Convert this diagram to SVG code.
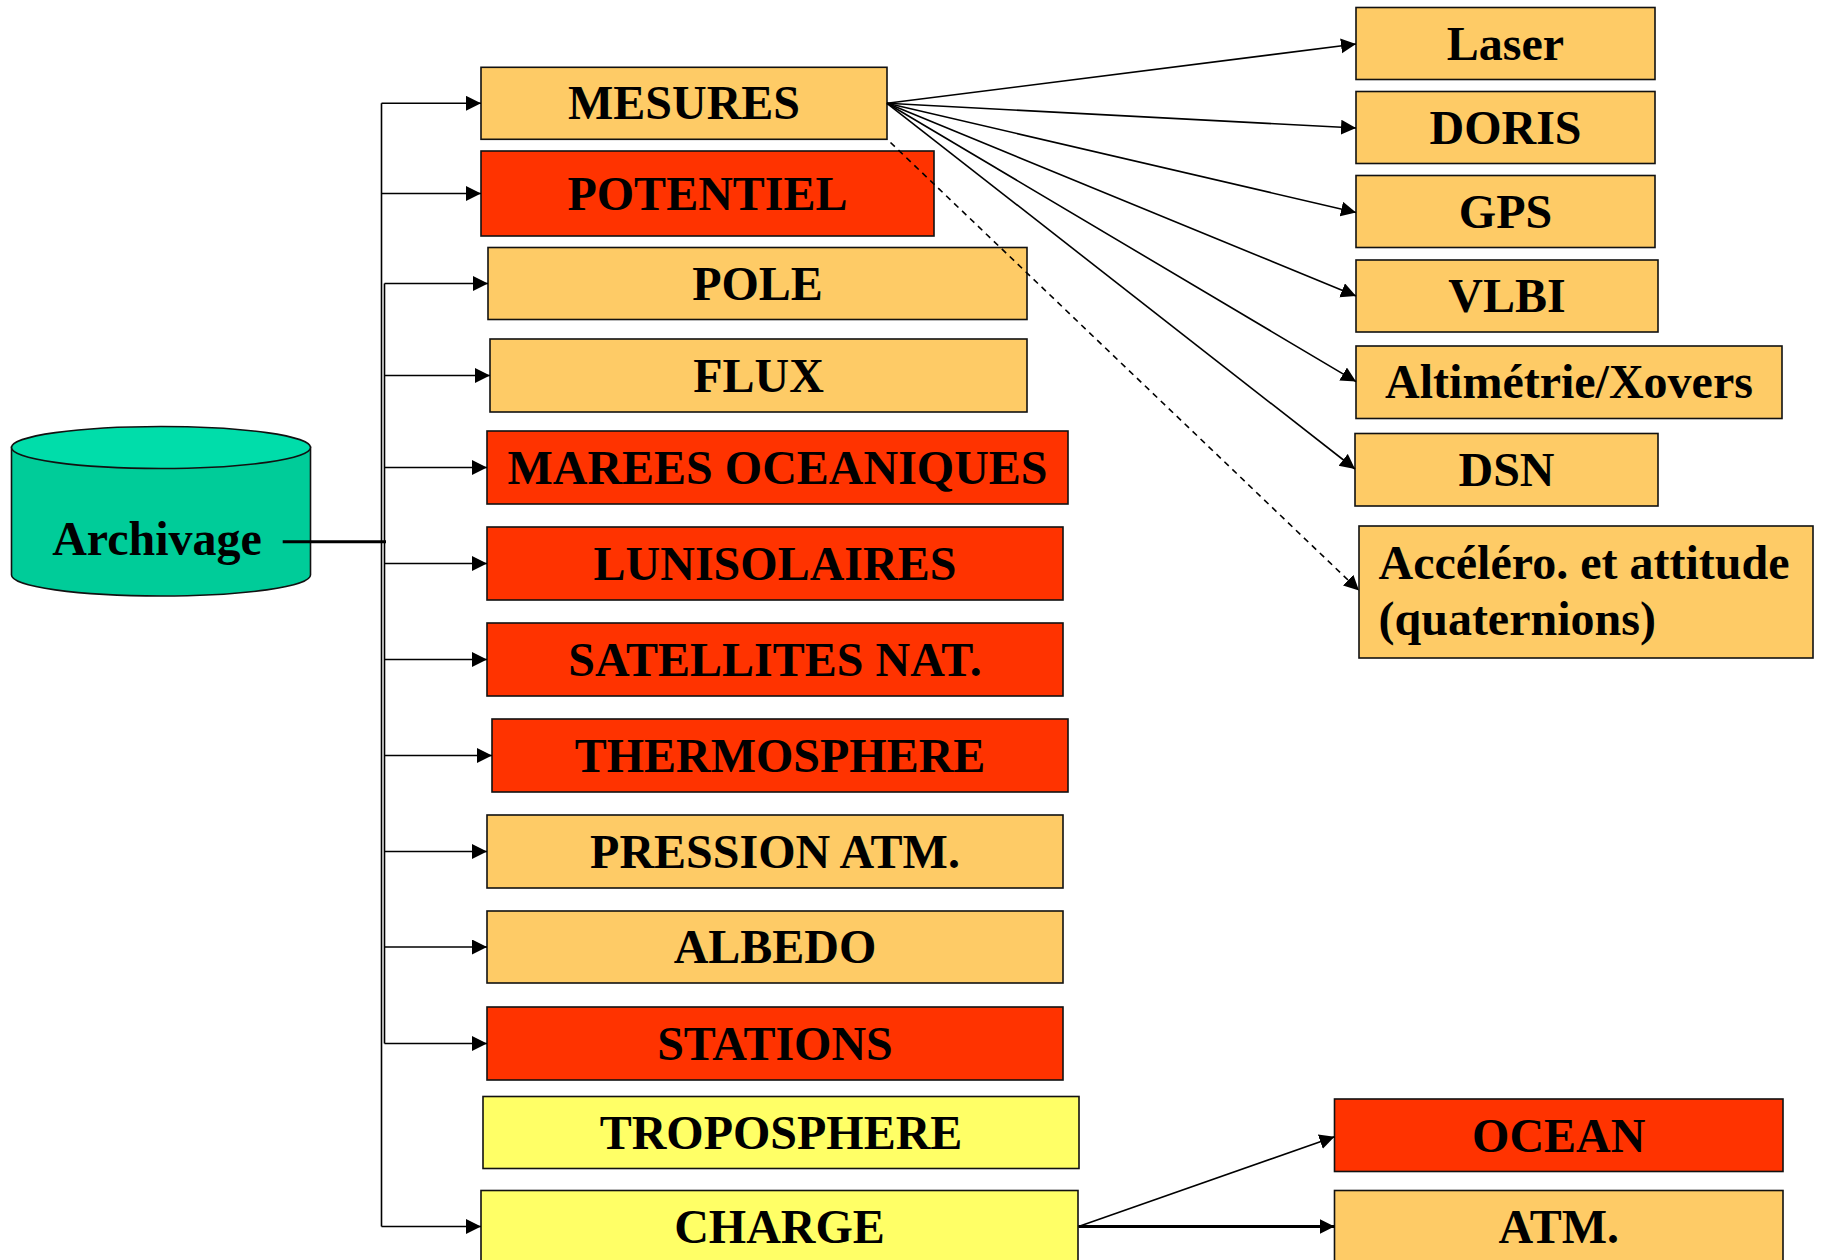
<svg xmlns="http://www.w3.org/2000/svg" width="1822" height="1260" viewBox="0 0 1822 1260">
  <style>
    .box { stroke: #111; stroke-width: 1.6; }
    .or { fill: #FECB66; }
    .rd { fill: #FF3300; }
    .ye { fill: #FFFF66; }
    .lbl { font-family: "Liberation Serif", "Times New Roman", serif; font-weight: bold; font-size: 48px; fill: #000; text-anchor: middle; }
    .lft { text-anchor: start; }
    .wire { fill: none; stroke: #000; stroke-width: 1.6; }
    .thick { stroke-width: 3; }
    .dash { stroke-dasharray: 6 5; }
  </style>
  <defs>
    <marker id="arr" markerUnits="userSpaceOnUse" markerWidth="16" markerHeight="16" refX="15" refY="7.5" orient="auto">
      <path d="M0,0 L15,7.5 L0,15 Z" fill="#000"/>
    </marker>
  </defs>
  <rect width="1822" height="1260" fill="#fff"/>

  <!-- archive cylinder -->
  <g id="archivage">
    <path d="M11.5,447 L11.5,575 A149.5,21 0 0 0 310.5,575 L310.5,447 Z" fill="#00CC99" stroke="#111" stroke-width="1.6"/>
    <ellipse cx="161" cy="447.5" rx="149.5" ry="21" fill="#00DDAA" stroke="#111" stroke-width="1.6"/>
    <text class="lbl" x="157" y="555">Archivage</text>
  </g>

  <!-- first-level nodes -->
  <g id="mesures"><rect class="box or" x="481" y="67.3" width="406" height="72"/><text class="lbl" x="684" y="119.3">MESURES</text></g>
  <g id="potentiel"><rect class="box rd" x="481" y="151" width="453" height="85"/><text class="lbl" x="707.5" y="209.5">POTENTIEL</text></g>
  <g id="pole"><rect class="box or" x="488" y="247.5" width="539" height="72"/><text class="lbl" x="757.5" y="299.5">POLE</text></g>
  <g id="flux"><rect class="box or" x="490" y="339" width="537" height="73"/><text class="lbl" x="758.5" y="391.5">FLUX</text></g>
  <g id="marees"><rect class="box rd" x="487" y="431" width="581" height="73"/><text class="lbl" x="777.5" y="483.5">MAREES OCEANIQUES</text></g>
  <g id="lunisolaires"><rect class="box rd" x="487" y="527" width="576" height="73"/><text class="lbl" x="775" y="579.5">LUNISOLAIRES</text></g>
  <g id="satellites"><rect class="box rd" x="487" y="623" width="576" height="73"/><text class="lbl" x="775" y="675.5">SATELLITES NAT.</text></g>
  <g id="thermosphere"><rect class="box rd" x="492" y="719" width="576" height="73"/><text class="lbl" x="780" y="771.5">THERMOSPHERE</text></g>
  <g id="pression"><rect class="box or" x="487" y="815" width="576" height="73"/><text class="lbl" x="775" y="867.5">PRESSION ATM.</text></g>
  <g id="albedo"><rect class="box or" x="487" y="911" width="576" height="72"/><text class="lbl" x="775" y="963">ALBEDO</text></g>
  <g id="stations"><rect class="box rd" x="487" y="1007" width="576" height="73"/><text class="lbl" x="775" y="1059.5">STATIONS</text></g>
  <g id="troposphere"><rect class="box ye" x="483" y="1096.5" width="596" height="72"/><text class="lbl" x="781" y="1148.5">TROPOSPHERE</text></g>
  <g id="charge"><rect class="box ye" x="481" y="1190.5" width="597" height="80"/><text class="lbl" x="779.5" y="1242.5">CHARGE</text></g>

  <!-- measurement types -->
  <g id="laser"><rect class="box or" x="1356" y="7.5" width="299" height="72"/><text class="lbl" x="1505.5" y="59.5">Laser</text></g>
  <g id="doris"><rect class="box or" x="1356" y="91.5" width="299" height="72"/><text class="lbl" x="1505.5" y="143.5">DORIS</text></g>
  <g id="gps"><rect class="box or" x="1356" y="175.5" width="299" height="72"/><text class="lbl" x="1505.5" y="227.5">GPS</text></g>
  <g id="vlbi"><rect class="box or" x="1356" y="260" width="302" height="72"/><text class="lbl" x="1507" y="312">VLBI</text></g>
  <g id="altimetrie"><rect class="box or" x="1356" y="346" width="426" height="72.5"/><text class="lbl" x="1569" y="398">Altimétrie/Xovers</text></g>
  <g id="dsn"><rect class="box or" x="1355" y="433.5" width="303" height="72.5"/><text class="lbl" x="1506.5" y="485.5">DSN</text></g>
  <g id="accelero"><rect class="box or" x="1359" y="526" width="454" height="132"/>
    <text class="lbl lft" x="1378.5" y="579">Accéléro. et attitude</text>
    <text class="lbl lft" x="1378.5" y="635">(quaternions)</text></g>

  <!-- loading types -->
  <g id="ocean"><rect class="box rd" x="1334.5" y="1099" width="448.5" height="72.5"/><text class="lbl" x="1558.75" y="1151.5">OCEAN</text></g>
  <g id="atm"><rect class="box or" x="1334.5" y="1190.5" width="448.5" height="80"/><text class="lbl" x="1558.75" y="1242.5">ATM.</text></g>

  <!-- connectors, drawn over the nodes -->
  <g id="connectors">
    <line class="wire thick" x1="282.7" y1="541.7" x2="386" y2="541.7"/>
    <line class="wire" x1="381.5" y1="103.3" x2="381.5" y2="1226.5"/>
    <line class="wire" x1="384.5" y1="283.5" x2="384.5" y2="1043.5"/>
    <line class="wire" x1="381.5" y1="103.3" x2="481" y2="103.3" marker-end="url(#arr)"/>
    <line class="wire" x1="381.5" y1="193.5" x2="481" y2="193.5" marker-end="url(#arr)"/>
    <line class="wire" x1="384.5" y1="283.5" x2="488" y2="283.5" marker-end="url(#arr)"/>
    <line class="wire" x1="384.5" y1="375.5" x2="490" y2="375.5" marker-end="url(#arr)"/>
    <line class="wire" x1="384.5" y1="467.5" x2="487" y2="467.5" marker-end="url(#arr)"/>
    <line class="wire" x1="384.5" y1="563.5" x2="487" y2="563.5" marker-end="url(#arr)"/>
    <line class="wire" x1="384.5" y1="659.5" x2="487" y2="659.5" marker-end="url(#arr)"/>
    <line class="wire" x1="384.5" y1="755.5" x2="492" y2="755.5" marker-end="url(#arr)"/>
    <line class="wire" x1="384.5" y1="851.5" x2="487" y2="851.5" marker-end="url(#arr)"/>
    <line class="wire" x1="384.5" y1="947" x2="487" y2="947" marker-end="url(#arr)"/>
    <line class="wire" x1="384.5" y1="1043.5" x2="487" y2="1043.5" marker-end="url(#arr)"/>
    <line class="wire" x1="381.5" y1="1226.5" x2="481" y2="1226.5" marker-end="url(#arr)"/>

    <line class="wire" x1="887" y1="103.3" x2="1356" y2="44" marker-end="url(#arr)"/>
    <line class="wire" x1="887" y1="103.3" x2="1356" y2="128" marker-end="url(#arr)"/>
    <line class="wire" x1="887" y1="103.3" x2="1356" y2="212.5" marker-end="url(#arr)"/>
    <line class="wire" x1="887" y1="103.3" x2="1356" y2="296" marker-end="url(#arr)"/>
    <line class="wire" x1="887" y1="103.3" x2="1356" y2="381.6" marker-end="url(#arr)"/>
    <line class="wire" x1="887" y1="103.3" x2="1355" y2="469" marker-end="url(#arr)"/>
    <line class="wire dash" x1="890.5" y1="142.5" x2="1359" y2="590.5" marker-end="url(#arr)"/>

    <line class="wire" x1="1078.5" y1="1226.5" x2="1334.5" y2="1136.7" marker-end="url(#arr)"/>
    <line class="wire thick" x1="1078.5" y1="1226.5" x2="1334.5" y2="1226.5" marker-end="url(#arr)"/>
  </g>
</svg>
